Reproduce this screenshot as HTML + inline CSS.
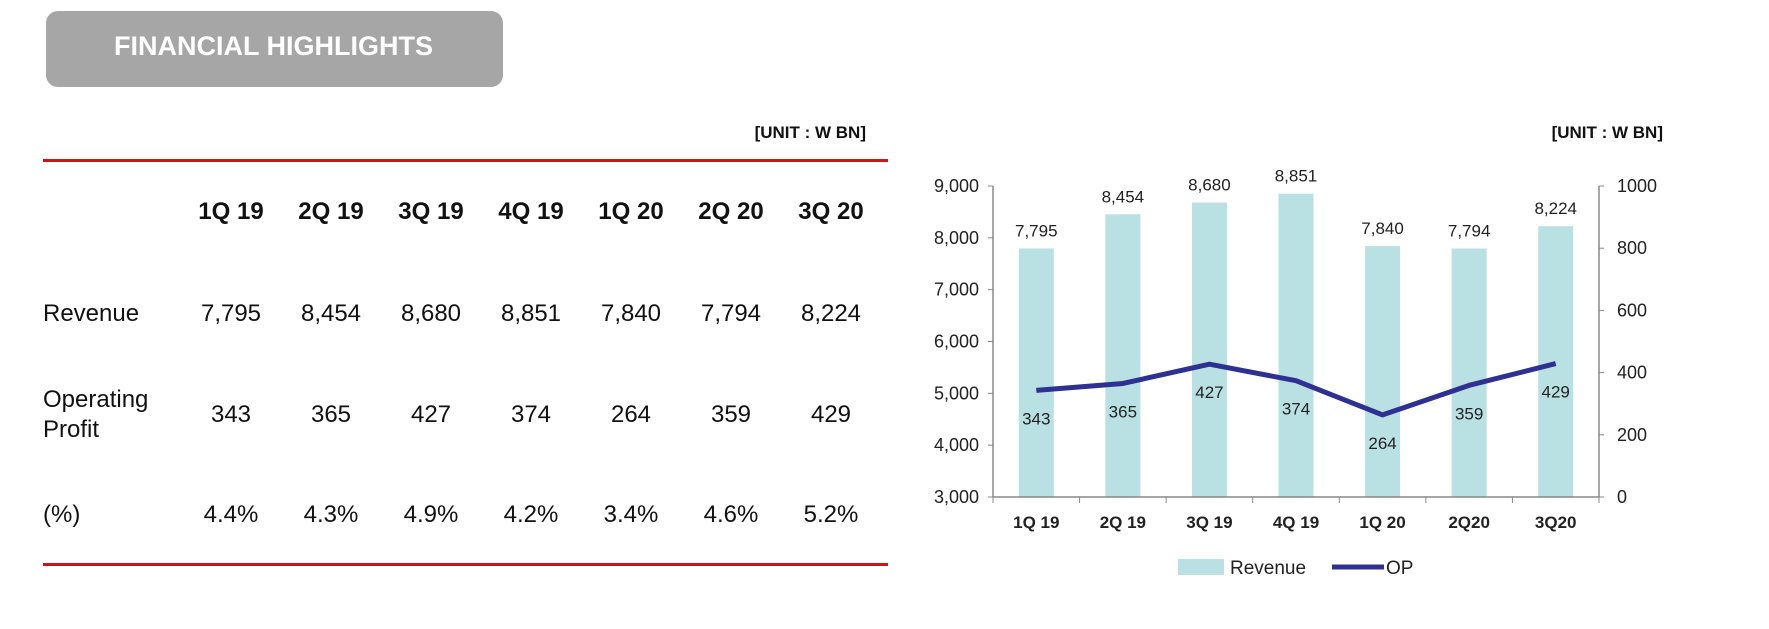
<!DOCTYPE html>
<html><head><meta charset="utf-8"><style>
body{margin:0;width:1769px;height:629px;background:#fff;overflow:hidden;font-family:"Liberation Sans Narrow","Liberation Sans",sans-serif;color:#111;position:relative}
.a{position:absolute}
.hdr{left:46px;top:11px;width:457px;height:76px;background:#a6a6a6;border-radius:12px}
.ttl{left:114px;top:31px;color:#fff;font-size:27px;font-weight:bold;letter-spacing:0px}
.unit{font-size:17px;font-weight:bold}
.rl{left:43px;width:845px;height:3px;background:#d0121b}
table{position:absolute;left:43px;top:180px;border-collapse:collapse;font-size:24px}
td{padding:0;text-align:center;width:100px}
td.l{text-align:left;width:138px}
</style></head><body>
<div class="a hdr"></div>
<div class="a ttl">FINANCIAL HIGHLIGHTS</div>
<div class="a unit" style="right:903px;top:123px">[UNIT : W BN]</div>
<div class="a rl" style="top:159px"></div>
<div class="a rl" style="top:563px"></div>
<table>
<tr style="height:64px;font-weight:bold"><td class="l"></td><td>1Q 19</td><td>2Q 19</td><td>3Q 19</td><td>4Q 19</td><td>1Q 20</td><td>2Q 20</td><td>3Q 20</td></tr>
<tr style="height:140px"><td class="l">Revenue</td><td>7,795</td><td>8,454</td><td>8,680</td><td>8,851</td><td>7,840</td><td>7,794</td><td>8,224</td></tr>
<tr style="height:62px"><td class="l" style="line-height:30px">Operating<br>Profit</td><td>343</td><td>365</td><td>427</td><td>374</td><td>264</td><td>359</td><td>429</td></tr>
<tr style="height:138px"><td class="l">(%)</td><td>4.4%</td><td>4.3%</td><td>4.9%</td><td>4.2%</td><td>3.4%</td><td>4.6%</td><td>5.2%</td></tr>
</table>
<div class="a unit" style="right:106px;top:123px">[UNIT : W BN]</div>
<svg class="a" style="left:0;top:0" width="1769" height="629" id="chart"></svg>
<script>
const categories=["1Q 19","2Q 19","3Q 19","4Q 19","1Q 20","2Q20","3Q20"];
const revenue=[7795,8454,8680,8851,7840,7794,8224];
const op=[343,365,427,374,264,359,429];
const leftTicks=[3000,4000,5000,6000,7000,8000,9000];
const rightTicks=[0,200,400,600,800,1000];
const svg=document.getElementById('chart');const NS='http://www.w3.org/2000/svg';
const X0=993,X1=1599,Y0=497,Y1=186;
const bw=(X1-X0)/categories.length;
const xc=i=>X0+bw*(i+0.5);
const yL=v=>Y0-(v-3000)/6000*(Y0-Y1);
const yR=v=>Y0-v/1000*(Y0-Y1);
function el(t,a,txt){const e=document.createElementNS(NS,t);for(const k in a)e.setAttribute(k,a[k]);if(txt!=null)e.textContent=txt;svg.appendChild(e);return e;}
const F='"Liberation Sans Narrow","Liberation Sans",sans-serif';
revenue.forEach((v,i)=>{
 const r=el('rect',{x:xc(i)-17.5,y:yL(v),width:35,height:Y0-yL(v),fill:'#b9e0e2'});
 
 const t=el('text',{x:xc(i),y:yL(v)-12,'text-anchor':'middle','font-size':17,'font-family':F,fill:'#222'},v.toLocaleString('en-US'));
 
});
el('line',{x1:X0,y1:Y1,x2:X0,y2:Y0,stroke:'#888','stroke-width':1.5});
el('line',{x1:X1,y1:Y1,x2:X1,y2:Y0,stroke:'#888','stroke-width':1.5});
el('line',{x1:X0,y1:Y0,x2:X1,y2:Y0,stroke:'#888','stroke-width':1.5});
leftTicks.forEach(v=>{el('line',{x1:X0-5,y1:yL(v),x2:X0,y2:yL(v),stroke:'#888'});
 const t=el('text',{x:X0-14,y:yL(v)+6,'text-anchor':'end','font-size':18,'font-family':F,fill:'#222'},v.toLocaleString('en-US'));
 });
rightTicks.forEach(v=>{el('line',{x1:X1,y1:yR(v),x2:X1+5,y2:yR(v),stroke:'#888'});
 const t=el('text',{x:X1+18,y:yR(v)+6,'font-size':18,'font-family':F,fill:'#222'},String(v));
 });
categories.forEach((c,i)=>{el('line',{x1:X0+bw*i,y1:Y0,x2:X0+bw*i,y2:Y0+6,stroke:'#888'});
 const t=el('text',{x:xc(i),y:528,'text-anchor':'middle','font-size':17,'font-weight':'bold','font-family':F,fill:'#222'},c);
 });
el('line',{x1:X1,y1:Y0,x2:X1,y2:Y0+6,stroke:'#888'});
const p=el('polyline',{points:op.map((v,i)=>xc(i)+','+yR(v)).join(' '),fill:'none',stroke:'#2e3192','stroke-width':5,'stroke-linejoin':'round'});

op.forEach((v,i)=>{const t=el('text',{x:xc(i),y:yR(v)+34,'text-anchor':'middle','font-size':17,'font-family':F,fill:'#222'},String(v));
 });
const s=el('rect',{x:1178,y:559,width:46,height:16,fill:'#b9e0e2'});
const l1=el('text',{x:1230,y:574,'font-size':19,'font-family':F,fill:'#222'},'Revenue');
const ll=el('line',{x1:1332,y1:567,x2:1384,y2:567,stroke:'#2e3192','stroke-width':5});
const l2=el('text',{x:1386,y:574,'font-size':19,'font-family':F,fill:'#222'},'OP');
</script>
</body></html>
